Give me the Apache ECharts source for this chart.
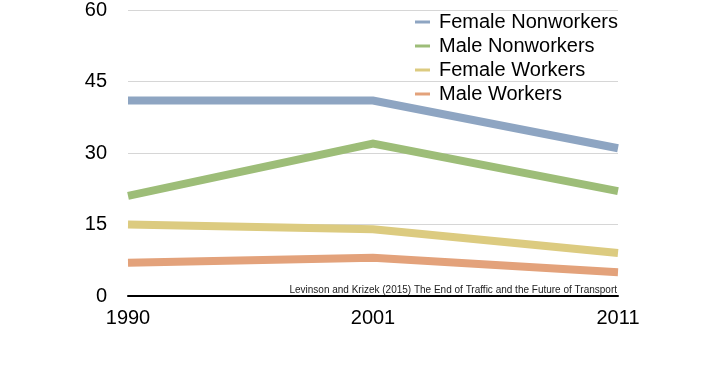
<!DOCTYPE html>
<html>
<head>
<meta charset="utf-8">
<script src="https://cdn.jsdelivr.net/npm/echarts@6/dist/echarts.min.js"></script>
<style>html,body{margin:0;padding:0;background:#fff}#c{width:706px;height:369px}</style>
</head>
<body>
<div id="c"></div>
<script>
var years = ['1990', '2001', '2011'];
var femaleNonworkers = [41, 41, 31];
var maleNonworkers = [21, 32, 22];
var femaleWorkers = [15, 14, 9];
var maleWorkers = [7, 8, 5];
var yTicks = [0, 15, 30, 45, 60];
var sourceText = 'Levinson and Krizek (2015) The End of Traffic and the Future of Transport';

var font = 'Liberation Sans, Arial, Helvetica, sans-serif';
var chart = echarts.init(document.getElementById('c'), null, {renderer: 'canvas'});
function line(name, data, color) {
  return {
    name: name, type: 'line', data: data, symbol: 'none',
    lineStyle: {width: 8, color: color, cap: 'butt', join: 'miter'},
    itemStyle: {color: color},
    emphasis: {disabled: true}, animation: false
  };
}
chart.setOption({
  animation: false,
  textStyle: {fontFamily: font},
  grid: {left: 128, right: 88, top: 7, bottom: 73, containLabel: false},
  title: {
    text: sourceText, right: 89, top: 285, padding: 0,
    textStyle: {fontSize: 10, fontWeight: 'normal', color: '#222', fontFamily: font}
  },
  legend: {
    orient: 'vertical', left: 410, top: 6,
    icon: 'rect', itemWidth: 15, itemHeight: 3, itemGap: 2,
    textStyle: {fontSize: 20, color: '#000', lineHeight: 22, fontFamily: font, padding: [0,0,0,4]},
    data: ['Female Nonworkers', 'Male Nonworkers', 'Female Workers', 'Male Workers']
  },
  xAxis: {
    type: 'category', data: years, boundaryGap: false,
    axisLine: {lineStyle: {color: '#000', width: 2}},
    axisTick: {show: false},
    axisLabel: {fontSize: 20, color: '#000', margin: 12, fontFamily: font},
    splitLine: {show: false}
  },
  yAxis: {
    type: 'value', min: yTicks[0], max: yTicks[yTicks.length - 1], interval: 15,
    axisLine: {show: false}, axisTick: {show: false},
    axisLabel: {fontSize: 20, color: '#000', margin: 21, fontFamily: font},
    splitLine: {lineStyle: {color: '#d6d6d6', width: 1}}
  },
  series: [
    line('Male Workers', maleWorkers, '#e3a27b'),
    line('Female Workers', femaleWorkers, '#dccb80'),
    line('Male Nonworkers', maleNonworkers, '#9dbd78'),
    line('Female Nonworkers', femaleNonworkers, '#8ea5c2')
  ]
});
</script>
</body>
</html>
